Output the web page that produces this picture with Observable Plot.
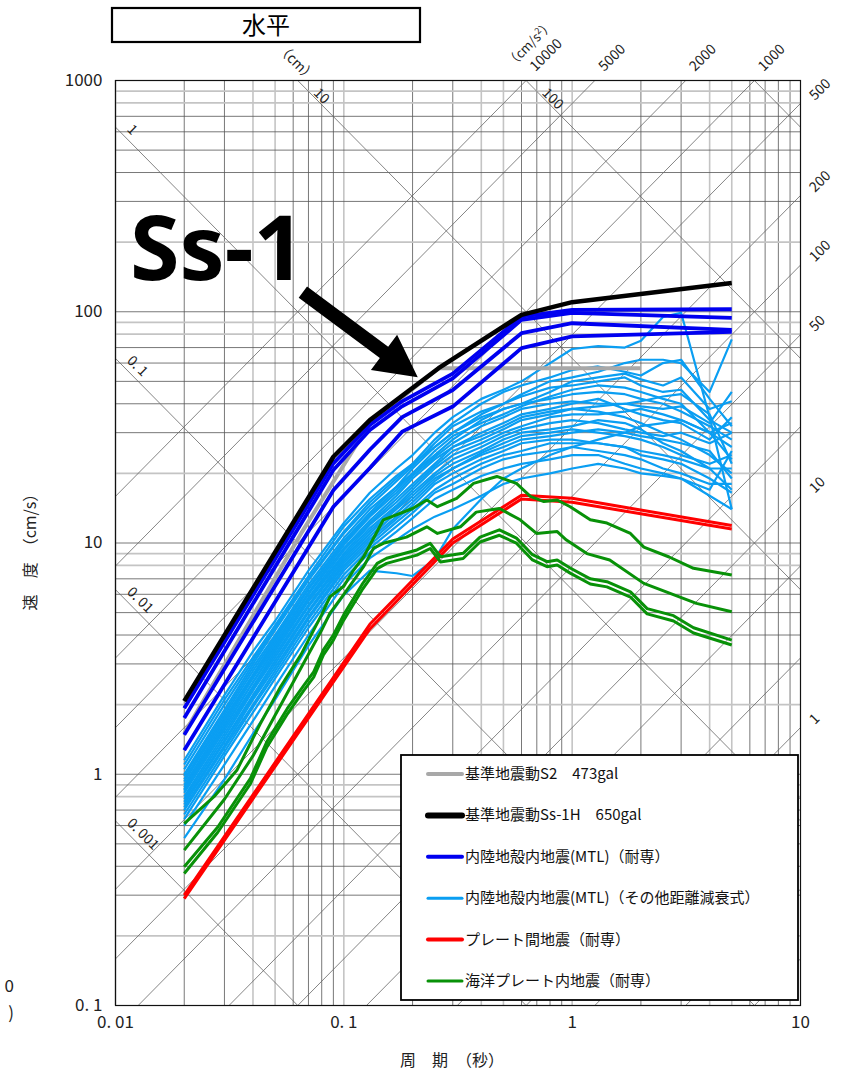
<!DOCTYPE html>
<html><head><meta charset="utf-8">
<script src="https://cdn.jsdelivr.net/npm/d3@7"></script>
<script src="https://cdn.jsdelivr.net/npm/@observablehq/plot@0.6"></script>
<style>body{margin:0;background:#fff}</style>
</head><body><div id="chart"></div>
<script>
const FONT = '"Noto Sans CJK JP","Noto Sans",sans-serif';

// ---- axis ticks ----
const xTickValues = [0.01, 0.1, 1, 10];
const xTickLabels = ["0. 01", "0. 1", "1", "10"];
const yTickValues = [0.1, 1, 10, 100, 1000];
const yTickLabels = ["0. 1", "1", "10", "100", "1000"];
const gridMultiples = [1, 2, 3, 4, 5, 6, 7, 8, 9];
const xDecades = [0.01, 0.1, 1];
const yDecades = [0.1, 1, 10, 100];
const dispLines = [0.001, 0.01, 0.1, 1, 10, 100, 1000];          // cm
const accelLines = [0.1, 0.2, 0.5, 1, 2, 5, 10, 20, 50, 100, 200, 500, 1000, 2000, 5000, 10000]; // cm/s2
const dispLabelsLeft = [1, 0.1, 0.01, 0.001];
const dispLabelsTop = [10, 100];
const accelLabelsTop = [10000, 5000, 2000, 1000];
const accelLabelsRight = [500, 200, 100, 50, 10, 1];

// ---- series ----
const s2Periods = [0.02, 0.065, 0.13, 0.26, 2.0];
const s2Values  = [1.5, 11, 33, 57, 57];

const ssPeriods = [0.02, 0.09, 0.13, 0.26, 0.6, 1.0, 5.0];
const ssValues  = [2.07, 23.6, 34, 57, 97, 110, 133];

const mtlPeriods = [0.02, 0.09, 0.13, 0.18, 0.3, 0.6, 1.0, 5.0];
const mtl1 = [1.93, 22.1, 32.4, 41, 54, 95.3, 101.9, 102.5];
const mtl2 = [1.75, 20.7, 30.8, 39, 51.5, 92.2, 98.8, 94.0];
const mtl3 = [1.48, 16.9, 25.3, 35, 45.9, 80.8, 89.2, 83.5];
const mtl4 = [1.27, 14.35, 21.1, 30.3, 38.9, 69.6, 78.2, 81.8];

const otherPeriods = [0.02,0.03,0.04,0.05,0.07,0.1,0.13,0.17,0.2,0.25,0.3,0.4,0.5,0.6,0.8,1.0,1.3,1.7,2.0,2.5,3.0,4.0,5.0];
const otherValues = [
 [1.15,2.2,3.4,4.6,7.6,12.2,16.5,21,24,30,35,42,46,50,60,69,71,70,75,95,99,35,14],
 [1.1,2.1,3.2,4.4,7.2,11.8,15.5,19.5,22,26,30,36,40,44,50,52,55,60,62,62,60,45,76],
 [1.05,2.0,3.1,4.3,7.0,11.2,15,19,22,28,33,40,45,48,52,56,58,55,53,60,62,42,32],
 [1.0,1.9,3.0,4.2,6.9,11,14.5,18.5,21.5,27,32,37,40,43,47,48,50,52,48,45,46,34,30],
 [0.98,1.85,2.9,4.0,6.6,10.5,14,17.5,20,24,28,34,38,40,45,50,52,54,51,48,52,38,41],
 [0.95,1.8,2.8,3.9,6.4,10.2,13.5,17.5,21,26,30,35,38,40,42,44,45,44,42,40,37,32,28],
 [0.93,1.75,2.7,3.8,6.3,10,13.2,17,20,25,29,33,36,39,43,46,48,47,45,42,40,30,23],
 [0.9,1.7,2.65,3.7,6.1,9.8,13,16.5,19.5,23.5,27,32,35,38,40,41,40,40,41,43,44,36,22],
 [0.88,1.65,2.6,3.6,6.0,9.5,12.5,16,19,23,26,30,33,36,38,40,42,38,36,34,33,28,35],
 [0.86,1.6,2.5,3.5,5.8,9.3,12.2,15.5,18,22,26,29,32,35,37,38,39,40,39,38,39,33,45],
 [0.85,1.6,2.5,3.5,5.7,9.0,12,15,17.5,21.5,25,28,31,34,36,38,37,35,33,30,28,24,20],
 [0.83,1.55,2.4,3.4,5.6,8.8,11.6,14.5,17,21,24,27,30,32,35,36,36,37,38,36,34,30,26],
 [0.8,1.5,2.35,3.3,5.4,8.6,11.3,14.2,16.5,20,23,26,29,31,33,34,33,31,30,29,30,27,30],
 [0.78,1.45,2.3,3.2,5.3,8.4,11,14,16,19.5,22,25,28,30,31,32,34,33,31,27,25,21,17],
 [0.76,1.4,2.2,3.1,5.1,8.2,10.7,13.5,15.5,19,21,24.5,27,29,30,31,30,29,28,26,24,22,24],
 [0.74,1.38,2.15,3.0,5.0,8.0,10.4,13,15,18.5,21,24,26,28,29,30,31,30,29,28,27,25,19],
 [0.72,1.33,2.1,2.9,4.8,7.8,10.1,12.7,14.5,18,20,23,25,27,28,28,27,26,25,24,23,21,21],
 [0.7,1.3,2.0,2.8,4.7,7.6,9.8,12.3,14,17,19,22,24,25,27,27,27,26,24,23,22,19,16.5],
 [0.67,1.25,1.95,2.7,4.5,7.3,9.5,11.8,13.5,16.5,18,21,23,24,25,26,25,24,23,21,20,18,18],
 [0.64,1.2,1.85,2.6,4.3,7.0,9.1,11.2,12.8,15.5,17,19.5,21,22,23,24,24,22,21,20,19,17,25],
 [0.6,1.1,1.7,2.4,4.0,6.6,8.6,10.3,11.5,13,14,16,18,19,20,21,22,21,20,19.5,19,16,14],
 [0.53,0.95,1.5,2.1,3.6,5.95,7.6,7.4,7.2,8.5,11.5,15.5,19,21,24,26,28,30,32,33,34,30,33]
];

const platePeriods = [0.02, 0.13, 0.3, 0.6, 1.0, 5.0];
const plate1 = [0.30, 4.45, 10.4, 16.1, 15.6, 11.9];
const plate2 = [0.29, 4.25, 10.0, 15.5, 15.0, 11.5];

const slab1Periods = [0.02,0.027,0.034,0.043,0.053,0.065,0.08,0.087,0.1,0.11,0.122,0.149,0.2,0.231,0.257,0.312,0.37,0.468,0.57,0.656,0.752,0.86,0.98,1.2,1.42,1.8,2.06,2.66,3.4,5.0];
const slab1 = [0.612,0.80,1.04,1.65,2.4,3.3,4.9,5.86,6.5,7.6,8.7,12.6,14.1,15.35,14.35,15.6,18.1,19.4,18.1,15.9,15.1,15.35,14.35,12.6,12.2,11.0,9.6,8.7,7.77,7.27];
const slab2Periods = [0.02,0.03,0.04,0.05,0.06,0.07,0.08,0.087,0.1,0.122,0.135,0.149,0.188,0.231,0.257,0.324,0.38,0.48,0.592,0.698,0.86,0.944,1.16,1.46,2.06,3.5,5.0];
const slab2 = [0.47,0.78,1.2,1.8,2.5,3.3,4.2,4.98,6.0,7.9,9.5,9.97,10.6,11.75,11.0,11.75,13.6,14.1,12.6,11.0,11.2,10.3,9.0,8.44,6.69,5.48,5.04];
const slab3Periods = [0.02,0.028,0.039,0.046,0.0565,0.0667,0.0738,0.0814,0.09,0.1,0.12,0.14,0.154,0.209,0.239,0.265,0.333,0.395,0.48,0.57,0.67,0.776,0.86,0.98,1.2,1.42,1.8,2.13,2.78,3.4,5.0];
const slab3 = [0.398,0.59,0.96,1.38,1.92,2.42,2.77,3.45,4.0,4.9,6.6,8.16,8.59,9.33,9.97,8.72,9.02,10.6,11.4,10.5,8.9,8.3,8.45,7.8,7.0,6.8,6.15,5.2,4.85,4.3,3.8];
const slab4 = [0.372,0.56,0.91,1.31,1.82,2.3,2.63,3.28,3.8,4.65,6.25,7.75,8.16,8.86,9.47,8.28,8.57,10.1,10.8,9.98,8.45,7.9,8.03,7.41,6.65,6.46,5.84,4.94,4.6,4.08,3.62];

const legendLabels = [
  "基準地震動S2　473gal",
  "基準地震動Ss-1H　650gal",
  "内陸地殻内地震(MTL)（耐専）",
  "内陸地殻内地震(MTL)（その他距離減衰式）",
  "プレート間地震（耐専）",
  "海洋プレート内地震（耐専）"
];
const colors = {s2:"#a8a8a8", ss:"#000000", mtl:"#0000f0", other:"#0a9ef2", plate:"#ff0000", slab:"#089108"};

// ---- build rows ----
const rows = [];
function addSeries(group, id, periods, values){ periods.forEach((T,i)=>rows.push({group,id,T,V:values[i]})); }
addSeries("s2","s2",s2Periods,s2Values);
addSeries("ss","ss",ssPeriods,ssValues);
[mtl1,mtl2,mtl3,mtl4].forEach((v,i)=>addSeries("mtl","mtl"+i,mtlPeriods,v));
otherValues.forEach((v,i)=>addSeries("other","o"+i,otherPeriods,v));
addSeries("plate","p1",platePeriods,plate1);
addSeries("plate","p2",platePeriods,plate2);
addSeries("slab","g1",slab1Periods,slab1);
addSeries("slab","g2",slab2Periods,slab2);
addSeries("slab","g3",slab3Periods,slab3);
addSeries("slab","g4",slab3Periods,slab4);
const grp = g => rows.filter(r=>r.group===g);

const xGrid = xDecades.flatMap(d=>gridMultiples.map(m=>({v:d*m,m})));
const yGrid = yDecades.flatMap(d=>gridMultiples.map(m=>({v:d*m,m})));
const TWO_PI = 2*Math.PI;
const diagRows = [];
dispLines.forEach(sd=>[0.01,10].forEach(T=>diagRows.push({id:"d"+sd,T,V:TWO_PI*sd/T})));
accelLines.forEach(sa=>[0.01,10].forEach(T=>diagRows.push({id:"a"+sa,T,V:sa*T/TWO_PI})));

const lineOpts = (stroke,w)=>({x:"T",y:"V",z:"id",stroke,strokeWidth:w,strokeLinejoin:"round",strokeLinecap:"butt"});

const plot = Plot.plot({
  width:843, height:1071,
  marginLeft:115, marginRight:43, marginTop:80, marginBottom:66,
  style:{fontFamily:FONT, fontSize:"17px", background:"white", color:"#222", overflow:"visible"},
  x:{type:"log", domain:[0.01,10], ticks:xTickValues, tickFormat:d=>xTickLabels[xTickValues.indexOf(d)], tickSize:0, tickPadding:10, label:null},
  y:{type:"log", domain:[0.1,1000], ticks:yTickValues, tickFormat:d=>yTickLabels[yTickValues.indexOf(d)], tickSize:0, tickPadding:13, label:null},
  marks:[
    Plot.ruleX(xGrid.filter(d=>[1,4,5].includes(d.m)), {x:"v", stroke:"#c4c4c4", strokeWidth:1.6}),
    Plot.ruleX(xGrid.filter(d=>![1,4,5].includes(d.m)), {x:"v", stroke:"#555", strokeWidth:0.8}),
    Plot.ruleY(yGrid.filter(d=>[2,8,9].includes(d.m)), {y:"v", stroke:"#c4c4c4", strokeWidth:1.6}),
    Plot.ruleY(yGrid.filter(d=>![2,8,9].includes(d.m)), {y:"v", stroke:"#555", strokeWidth:0.8}),
    Plot.line(diagRows, {x:"T",y:"V",z:"id",stroke:"#666",strokeWidth:0.8,clip:true}),
    Plot.line(grp("other"), lineOpts(colors.other,2.2)),
    Plot.line(grp("plate"), lineOpts(colors.plate,3)),
    Plot.line(grp("slab"), lineOpts(colors.slab,3)),
    Plot.line(grp("s2"), lineOpts(colors.s2,4)),
    Plot.line(grp("mtl"), lineOpts(colors.mtl,3.8)),
    Plot.line(grp("ss"), lineOpts(colors.ss,4.5)),
    Plot.frame({stroke:"#111", strokeWidth:1.2})
  ]
});
document.getElementById("chart").appendChild(plot);

const sx = plot.scale("x"), sy = plot.scale("y");
const X = v=>sx.apply(v), Y = v=>sy.apply(v);
const svg = d3.select(plot);
const ann = svg.append("g").attr("font-family",FONT).attr("text-anchor","start");

// diagonal labels
const smallText = (x,y,txt,rot,anchor)=>ann.append("text").attr("transform",`translate(${x},${y}) rotate(${rot})`)
  .attr("text-anchor",anchor||"start").attr("font-size",14).attr("fill","#222").text(txt);
dispLabelsLeft.forEach(sd=>{ const T=0.0111; smallText(X(T)+1, Y(TWO_PI*sd/T)-7, sd<1? "0. "+String(sd).slice(2):String(sd), 45); });
dispLabelsTop.forEach(sd=>{ const T=TWO_PI*sd/1000*1.17; smallText(X(T), Y(TWO_PI*sd/T)-2, String(sd), 45); });
accelLabelsTop.forEach(sa=>{ const V=1000*Math.pow(10,8/231), T=TWO_PI*V/sa; smallText(X(T)+2, Y(V), String(sa), -45); });
accelLabelsRight.forEach(sa=>{ const T=10; smallText(X(T)+15, Y(sa*T/TWO_PI)-2, String(sa), -45); });
smallText(293, 66, "（cm）", 45, "middle");
ann.append("text").attr("transform","translate(533,47) rotate(-45)").attr("text-anchor","middle").attr("font-size",13).attr("fill","#222")
  .html('（cm/s<tspan dy="-5" font-size="9">2</tspan><tspan dy="5">）</tspan>');

// axis titles
ann.append("text").attr("transform","translate(36,548) rotate(-90)").attr("text-anchor","middle").attr("font-size",16).attr("fill","#222").text("速　度　（cm/s）");
ann.append("text").attr("x",452).attr("y",1066).attr("text-anchor","middle").attr("font-size",16).attr("fill","#222").text("周　期　（秒）");
ann.append("text").attr("x",14).attr("y",992).attr("text-anchor","end").attr("font-size",17).attr("fill","#222").text("0");
ann.append("text").attr("x",14).attr("y",1019).attr("text-anchor","end").attr("font-size",17).attr("fill","#222").text(")");

// title box
ann.append("rect").attr("x",112).attr("y",8).attr("width",308).attr("height",34).attr("fill","white").attr("stroke","#000").attr("stroke-width",2.2);
ann.append("text").attr("x",266).attr("y",34).attr("text-anchor","middle").attr("font-size",24).attr("fill","#000").text("水平");

// Ss-1 annotation
ann.append("text").attr("x",X(0.01163)).attr("y",Y(136)).attr("text-anchor","start").attr("font-family",'"Noto Sans",sans-serif').attr("font-weight",700).attr("font-size",90).attr("fill","#000").text("Ss-1");
(function(){
  const t=[X(0.0665),Y(120.9)], p=[X(0.2118),Y(51.8)];
  const dx=p[0]-t[0], dy=p[1]-t[1], L=Math.hypot(dx,dy), u=[dx/L,dy/L], n=[-u[1],u[0]];
  const hl=42, hw=22, sw=7, b=[p[0]-u[0]*hl,p[1]-u[1]*hl];
  const pt=(a,k)=>[a[0]+n[0]*k,a[1]+n[1]*k];
  const pts=[pt(t,sw),pt(b,sw),pt(b,hw),p,pt(b,-hw),pt(b,-sw),pt(t,-sw)];
  ann.append("path").attr("d","M"+pts.map(q=>q.join(",")).join("L")+"Z").attr("fill","#000");
})();

// legend
const lg = ann.append("g");
lg.append("rect").attr("x",401).attr("y",755).attr("width",397).attr("height",245).attr("fill","white").attr("stroke","#000").attr("stroke-width",1.8);
const legendKeys = ["s2","ss","mtl","other","plate","slab"];
const legendWidths = [4,6,4,3,4,3];
legendLabels.forEach((lab,i)=>{
  const y = 774 + i*41.4;
  lg.append("line").attr("x1",428).attr("x2",462).attr("y1",y).attr("y2",y).attr("stroke",colors[legendKeys[i]]).attr("stroke-width",legendWidths[i]).attr("stroke-linecap","round");
  lg.append("text").attr("x",465).attr("y",y+5).attr("text-anchor","start").attr("font-size",15).attr("fill","#111").text(lab);
});
</script></body></html>
